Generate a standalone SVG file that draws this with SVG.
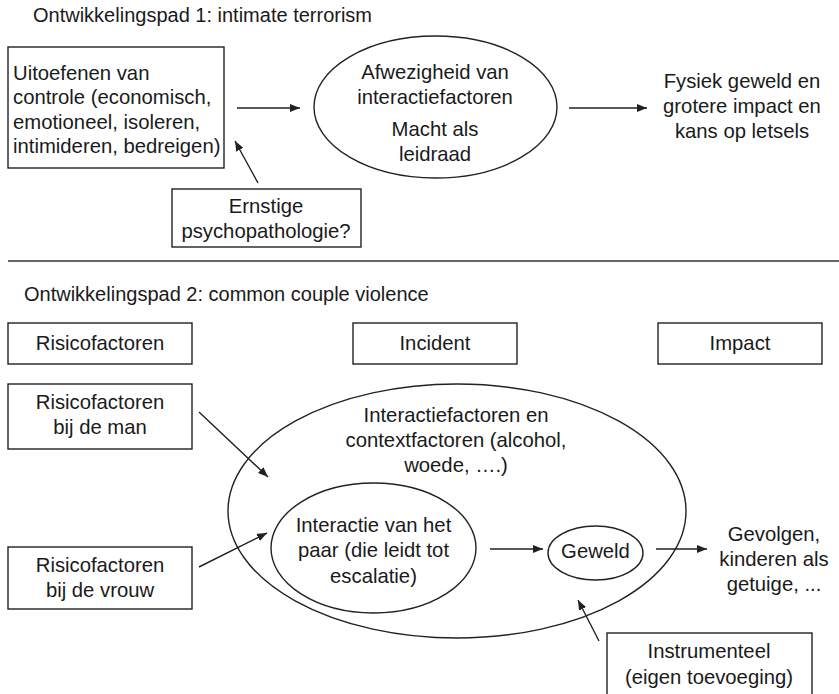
<svg xmlns="http://www.w3.org/2000/svg" width="839" height="694" viewBox="0 0 839 694">
<style>
  text { font-family: "Liberation Sans", Arial, sans-serif; font-size: 20.3px; fill: #1a1a1a; }
  .title { font-size: 20px; }
  .c { text-anchor: middle; }
  .shape { fill: #ffffff; stroke: #222222; stroke-width: 1.4; }
  .conn line { stroke: #222222; stroke-width: 1.4; marker-end: url(#arr); }
</style>
<defs>
  <marker id="arr" viewBox="0 0 10 8" refX="10" refY="4" markerWidth="10" markerHeight="8" markerUnits="userSpaceOnUse" orient="auto">
    <path d="M0,0 L10,4 L0,8 Z" fill="#222222"/>
  </marker>
</defs>
<rect x="0" y="0" width="839" height="694" fill="#ffffff"/>

<text class="title" x="33" y="22">Ontwikkelingspad 1: intimate terrorism</text>

<g id="box-controle">
  <rect class="shape" x="8" y="47" width="216" height="121"/>
  <text x="13" y="80">Uitoefenen van</text>
  <text x="13" y="104">controle (economisch,</text>
  <text x="13" y="129">emotioneel, isoleren,</text>
  <text x="13" y="153">intimideren, bedreigen)</text>
</g>

<g id="ellipse-afwezigheid">
  <ellipse class="shape" cx="435.5" cy="107" rx="121.5" ry="71"/>
  <text class="c" x="435" y="79">Afwezigheid van</text>
  <text class="c" x="435" y="104">interactiefactoren</text>
  <text class="c" x="435" y="136">Macht als</text>
  <text class="c" x="435" y="161">leidraad</text>
</g>

<g id="fysiek">
  <text class="c" x="742" y="88">Fysiek geweld en</text>
  <text class="c" x="742" y="113">grotere impact en</text>
  <text class="c" x="742" y="138">kans op letsels</text>
</g>

<g id="box-psychopathologie">
  <rect class="shape" x="172" y="189" width="189" height="58"/>
  <text class="c" x="266" y="213">Ernstige</text>
  <text class="c" x="266" y="238">psychopathologie?</text>
</g>

<line x1="8" y1="261" x2="839" y2="261" stroke="#333333" stroke-width="1.4"/>

<text class="title" x="24" y="301">Ontwikkelingspad 2: common couple violence</text>

<g id="hdr-risicofactoren">
  <rect class="shape" x="8" y="323" width="184" height="41"/>
  <text class="c" x="100" y="350">Risicofactoren</text>
</g>
<g id="hdr-incident">
  <rect class="shape" x="353" y="323" width="164" height="41"/>
  <text class="c" x="435" y="350">Incident</text>
</g>
<g id="hdr-impact">
  <rect class="shape" x="658" y="323" width="164" height="41"/>
  <text class="c" x="740" y="350">Impact</text>
</g>

<g id="box-man">
  <rect class="shape" x="8" y="384" width="184" height="65"/>
  <text class="c" x="100" y="409">Risicofactoren</text>
  <text class="c" x="100" y="434">bij de man</text>
</g>

<g id="box-vrouw">
  <rect class="shape" x="8" y="547" width="184" height="62"/>
  <text class="c" x="100" y="572">Risicofactoren</text>
  <text class="c" x="100" y="597">bij de vrouw</text>
</g>

<g id="ellipse-context">
  <ellipse class="shape" cx="457" cy="511" rx="229" ry="127"/>
  <text class="c" x="456" y="422">Interactiefactoren en</text>
  <text class="c" x="456" y="447">contextfactoren (alcohol,</text>
  <text class="c" x="456" y="472">woede, ….)</text>
</g>

<g id="ellipse-interactie">
  <ellipse class="shape" cx="373.5" cy="548" rx="102.5" ry="65"/>
  <text class="c" x="373.5" y="532">Interactie van het</text>
  <text class="c" x="373.5" y="557">paar (die leidt tot</text>
  <text class="c" x="373.5" y="583">escalatie)</text>
</g>

<g id="ellipse-geweld">
  <ellipse class="shape" cx="595.5" cy="553" rx="47.5" ry="27"/>
  <text class="c" x="595.5" y="558">Geweld</text>
</g>

<g id="gevolgen">
  <text class="c" x="774" y="541">Gevolgen,</text>
  <text class="c" x="774" y="566">kinderen als</text>
  <text class="c" x="774" y="591">getuige, ...</text>
</g>

<g id="box-instrumenteel">
  <rect class="shape" x="607" y="633" width="205" height="70"/>
  <text class="c" x="709" y="658">Instrumenteel</text>
  <text class="c" x="709" y="684">(eigen toevoeging)</text>
</g>

<g id="connectors" class="conn">
  <line x1="237" y1="108" x2="300" y2="108"/>
  <line x1="569" y1="108" x2="647" y2="108"/>
  <line x1="258" y1="183" x2="235" y2="141"/>
  <line x1="199" y1="412" x2="268" y2="477"/>
  <line x1="199" y1="567" x2="267" y2="533"/>
  <line x1="490" y1="549" x2="543" y2="549"/>
  <line x1="656" y1="549" x2="707" y2="549"/>
  <line x1="599" y1="641" x2="578" y2="600"/>
</g>
</svg>
